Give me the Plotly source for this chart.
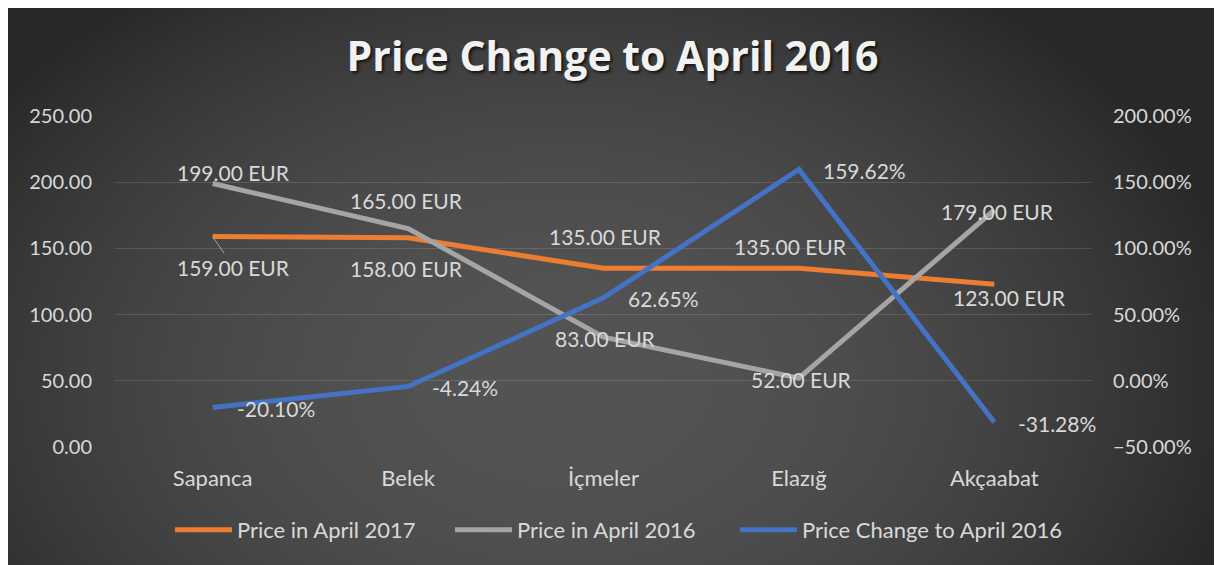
import base64
import struct
import zlib

import numpy as np
import plotly.graph_objects as go

# ---------------- data ----------------
categories = ["Sapanca", "Belek", "İçmeler", "Elazığ", "Akçaabat"]
price_2017 = [159, 158, 135, 135, 123]
price_2016 = [199, 165, 83, 52, 179]
price_change = [-0.2010, -0.0424, 0.6265, 1.5962, -0.3128]
series_names = ["Price in April 2017", "Price in April 2016", "Price Change to April 2016"]
title_text = "Price Change to April 2016"

# ---------------- styles ----------------
COLORS = ["#ED7D31", "#A5A5A5", "#4472C4"]
TXT = "#d9d9d9"
FONT = "Lato"
W, H = 1209, 557
ML, MR, MT, MB = 107, 125, 108, 118
PW, PH = W - ML - MR, H - MT - MB

# label offsets (pixels) for data labels
off_2016 = [(21, 11), (-2, 28), (2, -1), (3, -1), (3, -1)]
off_2017 = [(21, -31), (-2, -31), (2, 32), (-8, 22), (15, -13)]
# legend entry left edges (pixels from plot-area left)
legend_left = [55, 335, 620]


def png_data_uri(arr):
    h, w = arr.shape
    raw = b"".join(b"\x00" + arr[i].tobytes() for i in range(h))

    def chunk(t, d):
        c = struct.pack(">I", len(d)) + t + d
        return c + struct.pack(">I", zlib.crc32(t + d) & 0xFFFFFFFF)

    png = (b"\x89PNG\r\n\x1a\n"
           + chunk(b"IHDR", struct.pack(">IIBBBBB", w, h, 8, 0, 0, 0, 0))
           + chunk(b"IDAT", zlib.compress(raw, 9))
           + chunk(b"IEND", b""))
    return "data:image/png;base64," + base64.b64encode(png).decode()


# radial background gradient
gw, gh = W // 2, H // 2
xs = (np.arange(gw) + 0.5) * 2
ys = (np.arange(gh) + 0.5) * 2
X, Y = np.meshgrid(xs, ys)
d2 = ((X - 552) / 650.0) ** 2 + ((Y - 372) / 450.0) ** 2
val = np.clip(84 - 38 * d2, 40, 84).astype(np.uint8)
bg_uri = png_data_uri(val)

fig = go.Figure()
fig.add_trace(go.Scatter(x=categories, y=price_2017, name=series_names[0], mode="lines",
                         line=dict(color=COLORS[0], width=5), yaxis="y", legend="legend"))
fig.add_trace(go.Scatter(x=categories, y=price_2016, name=series_names[1], mode="lines",
                         line=dict(color=COLORS[1], width=5), yaxis="y", legend="legend2"))
fig.add_trace(go.Scatter(x=categories, y=price_change, name=series_names[2], mode="lines",
                         line=dict(color=COLORS[2], width=5), yaxis="y2", legend="legend3"))

ann = []
lab_font = dict(family=FONT, size=21, color=TXT)
for i, c in enumerate(categories):
    dx, dy = off_2016[i]
    ann.append(dict(x=c, y=price_2016[i], xref="x", yref="y", text=f"{price_2016[i]:.2f} EUR",
                    showarrow=False, xshift=dx, yshift=dy, font=lab_font))
    dx, dy = off_2017[i]
    if i == 0:
        ann.append(dict(x=c, y=price_2017[i], xref="x", yref="y", text=f"{price_2017[i]:.2f} EUR",
                        showarrow=True, ax=dx, ay=-dy, arrowhead=0, arrowwidth=1,
                        arrowcolor="#a6a6a6", font=lab_font, standoff=0))
    else:
        ann.append(dict(x=c, y=price_2017[i], xref="x", yref="y", text=f"{price_2017[i]:.2f} EUR",
                        showarrow=False, xshift=dx, yshift=dy, font=lab_font))
    ann.append(dict(x=c, y=price_change[i], xref="x", yref="y2", text=f"{price_change[i] * 100:.2f}%",
                    showarrow=False, xanchor="left", xshift=22, yshift=-1, font=lab_font))


def legend_cfg(px):
    return dict(orientation="h", x=px / PW, xanchor="left", y=-(522 - 439) / PH,
                yanchor="middle", font=dict(family=FONT, size=22, color=TXT),
                bgcolor="rgba(0,0,0,0)", itemwidth=57)


fig.update_layout(
    width=W, height=H,
    margin=dict(l=ML, r=MR, t=MT, b=MB),
    paper_bgcolor="#2a2a2a",
    plot_bgcolor="rgba(0,0,0,0)",
    font=dict(family=FONT, size=20, color=TXT),
    title=dict(text=title_text, x=0.5, xanchor="center", y=1 - 49 / H, yanchor="middle",
               font=dict(family="Open Sans", size=41, color="#f2f2f2", weight="bold",
                         shadow="2px 2px 3px rgba(0,0,0,0.7)")),
    xaxis=dict(type="category", range=[-0.5, 4.5], showgrid=False, zeroline=False,
               showline=False, ticks="", ticklabelstandoff=16,
               tickfont=dict(family=FONT, size=22, color=TXT)),
    yaxis=dict(range=[0, 250], dtick=50, tickformat=".2f", showgrid=True,
               gridcolor="rgba(255,255,255,0.13)", gridwidth=1, zeroline=False,
               showline=False, ticks="", ticklabelstandoff=22,
               tickfont=dict(family=FONT, size=20, color=TXT)),
    yaxis2=dict(range=[-0.5, 2.0], dtick=0.5, tickformat=".2%", overlaying="y", side="right",
                showgrid=False, zeroline=False, showline=False, ticks="", ticklabelstandoff=20,
                tickfont=dict(family=FONT, size=20, color=TXT)),
    legend=legend_cfg(legend_left[0]),
    legend2=legend_cfg(legend_left[1]),
    legend3=legend_cfg(legend_left[2]),
    showlegend=True,
    annotations=ann,
    images=[dict(source=bg_uri, xref="paper", yref="paper", x=-ML / PW, y=1 + MT / PH,
                 sizex=W / PW, sizey=H / PH, sizing="stretch", xanchor="left", yanchor="top",
                 layer="below")],
)

fig.write_html("out.html")
